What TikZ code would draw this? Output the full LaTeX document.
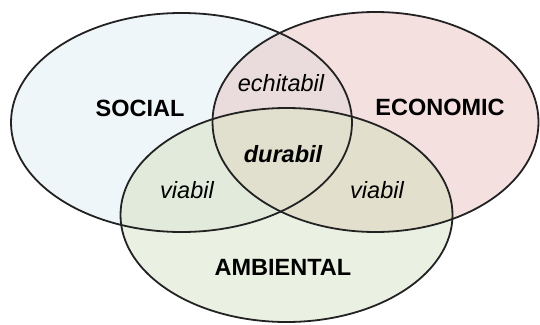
\documentclass[tikz,border=0pt]{standalone}
\usepackage{fontspec}
\newfontfamily\arial{Liberation Sans}
\definecolor{socfill}{HTML}{EEF6F9}
\definecolor{ecofill}{HTML}{F5E0E0}
\definecolor{ambfill}{HTML}{EBF1E2}
\definecolor{sefill}{HTML}{EADCDD}
\definecolor{safill}{HTML}{E2EBDB}
\definecolor{eafill}{HTML}{E3DFCD}
\definecolor{allfill}{HTML}{E1DFCE}
\definecolor{edge}{HTML}{222222}
\begin{document}
\begin{tikzpicture}[x=1pt,y=-1pt,
  outline/.style={draw=edge,line width=1.8pt},
  bigtxt/.style={font=\arial\fontsize{23.5}{25}\selectfont\bfseries,anchor=base,inner sep=0pt},
  smalltxt/.style={font=\arial\fontsize{23.5}{25}\selectfont\itshape,anchor=base,inner sep=0pt},
  midtxt/.style={font=\arial\fontsize{23.5}{25}\selectfont\bfseries\itshape,anchor=base,inner sep=0pt}]
\useasboundingbox (0,0) rectangle (540,324);
\def\socpath{(181.5,122.5) ellipse [x radius=170.5, y radius=109.5]}
\def\ecopath{(375.5,122) ellipse [x radius=163, y radius=110]}
\def\ambpath{(286.5,215) ellipse [x radius=166, y radius=107]}
\fill[socfill] \socpath;
\fill[ecofill] \ecopath;
\fill[ambfill] \ambpath;
\begin{scope}
  \clip \socpath;
  \fill[sefill] \ecopath;
  \fill[safill] \ambpath;
  \clip \ecopath;
  \fill[allfill] \ambpath;
\end{scope}
\begin{scope}
  \clip \ecopath;
  \clip \ambpath;
  \fill[eafill] (0,0) rectangle (540,324);
  \clip \socpath;
  \fill[allfill] (0,0) rectangle (540,324);
\end{scope}
\draw[outline] \socpath;
\draw[outline] \ecopath;
\draw[outline] \ambpath;
\node[bigtxt] (social) at (140,116) {SOCIAL};
\node[bigtxt] (economic) at (440,115) {ECONOMIC};
\node[bigtxt] (ambiental) at (283,275) {AMBIENTAL};
\node[smalltxt] (echitabil) at (281,91) {echitabil};
\node[midtxt] (durabil) at (283,162) {durabil};
\node[smalltxt] (viabilL) at (187,198) {viabil};
\node[smalltxt] (viabilR) at (377,198) {viabil};
\end{tikzpicture}
\end{document}
